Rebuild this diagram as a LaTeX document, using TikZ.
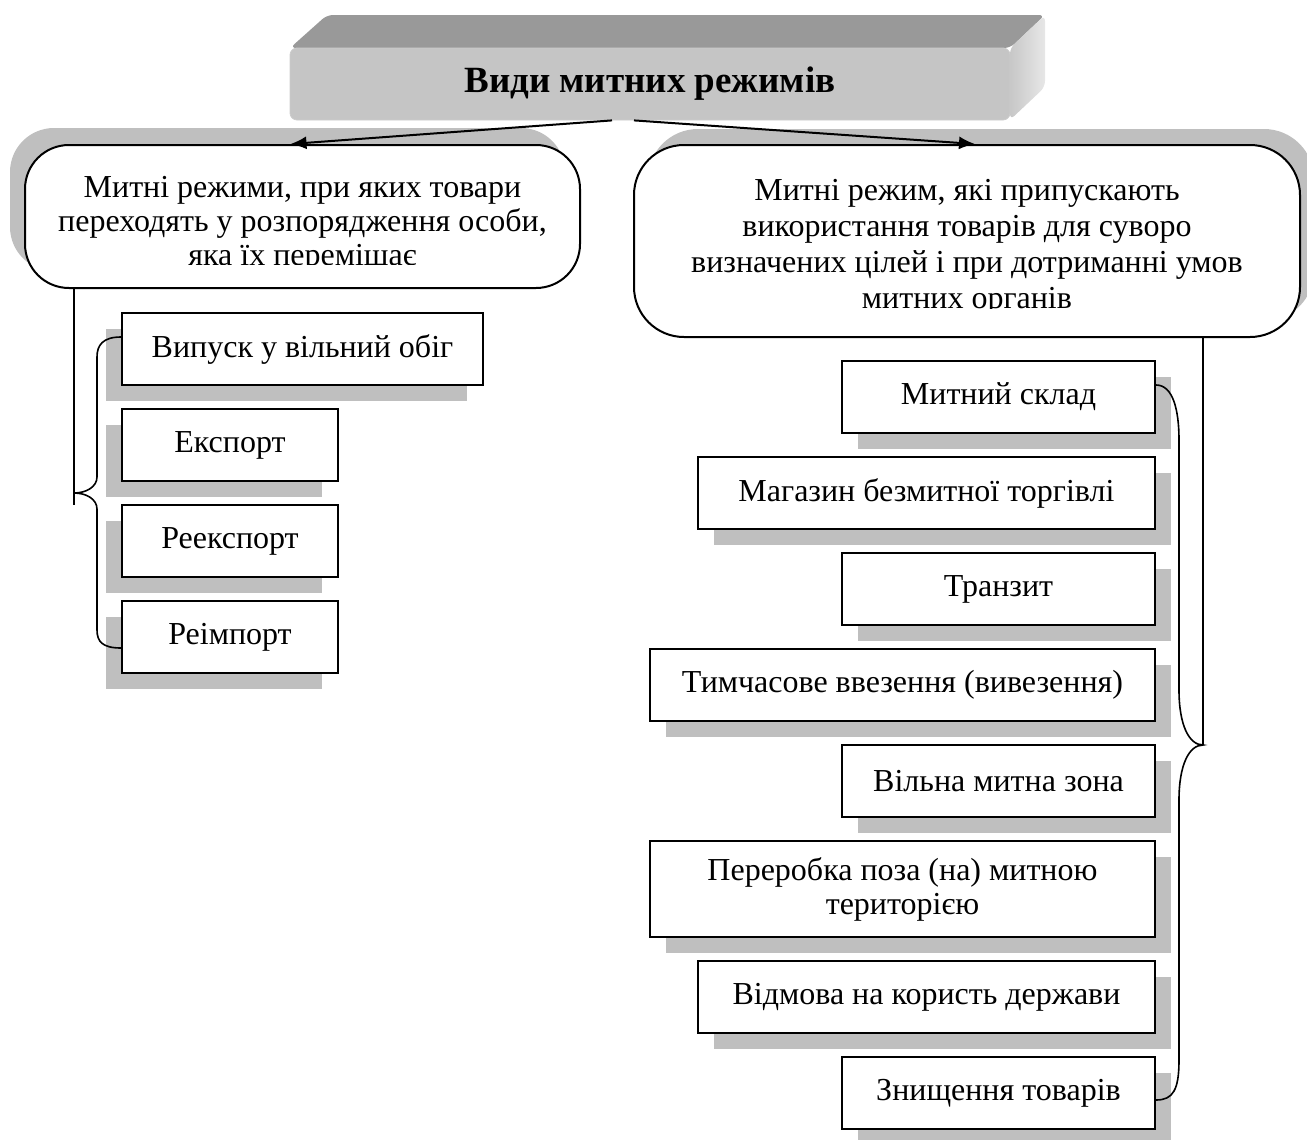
\documentclass[tikz,border=0pt]{standalone}
\usepackage{fontspec}
\setmainfont{Liberation Serif}
\usetikzlibrary{shadows, arrows.meta}

\definecolor{tin}{RGB}{191,191,191}     % колір тіні
\definecolor{fasad}{RGB}{197,197,197}   % передня грань заголовка
\definecolor{dakh}{RGB}{153,153,153}    % верхня грань
\definecolor{bik}{RGB}{221,221,221}     % бічна грань

\begin{document}
\begin{tikzpicture}[
        x=0.5pt, y=-0.5pt, % 1 піксель = 0.5pt, вісь y донизу
        every node/.style = {font=\fontsize{16}{17}\selectfont},
        vyd/.style = {draw, line width=1pt, fill=white, align=center, minimum height=36pt, inner sep=0pt}, % прямокутник режиму
        ltin/.style = {general shadow={fill=tin, shadow xshift=-8pt, shadow yshift=-8pt}},
        ptin/.style = {general shadow={fill=tin, shadow xshift=8pt, shadow yshift=-8pt}},
        hrupa/.style = {draw, line width=1pt, fill=white, inner sep=0pt}, % заокруглений блок
        strilka/.style = {draw, -{Latex[length=8pt, width=6.5pt]}, line width=1pt},
        duzhka/.style = {draw, line width=0.8pt},
    ]
    \useasboundingbox (0,0) rectangle (1307,1140);

    % заголовок (об'ємний)
    \fill[dakh, rounded corners=3pt] (290,48) -- (327,15) -- (1045,15) -- (1010,48) -- cycle;
    \shade[left color=bik!90!black, right color=bik!70!white, rounded corners=3pt] (1010,48) -- (1045,15) -- (1045,87) -- (1010,120) -- cycle;
    \node[fill=fasad, draw=black!20, rounded corners=3.5pt, minimum width=360pt, minimum height=36pt,
        font=\bfseries\fontsize{18.5}{20}\selectfont] (title) at (650,84) {\raisebox{-2pt}{Види митних режимів}};

    % дві групи
    \node[hrupa, rounded corners=22pt, minimum width=277.5pt, minimum height=71.5pt,
        general shadow={fill=tin, shadow xshift=-7.5pt, shadow yshift=8.5pt}] (lbox) at (302.5,216.5) {};
    \node[hrupa, rounded corners=25pt, minimum width=333pt, minimum height=96pt,
        general shadow={fill=tin, shadow xshift=7pt, shadow yshift=8pt}] (rbox) at (967,241) {};
    \begin{scope}
        \clip (25,145) rectangle (580,264);
        \node[align=center] (ltext) at (302.5,224) {Митні режими, при яких товари\\переходять у розпорядження особи,\\яка їх перемішає};
    \end{scope}
    \begin{scope}
        \clip (634,145) rectangle (1300,308);
        \node[align=center, font=\fontsize{16}{18}\selectfont] (rtext) at (967,247) {Митні режим, які припускають\\використання товарів для суворо\\визначених цілей і при дотриманні умов\\митних органів};
    \end{scope}

    \draw[strilka] ([xshift=-19pt]title.south) -- ([xshift=-6pt]lbox.north);
    \draw[strilka] ([xshift=-8pt]title.south) -- ([xshift=4pt]rbox.north);

    % ліва гілка
    \node[vyd, ltin, minimum width=180.5pt] (b1) at (302.5,349) {Випуск у вільний обіг};
    \node[vyd, ltin, minimum width=108pt] (b2) at (230,445) {Експорт};
    \node[vyd, ltin, minimum width=108pt] (b3) at (230,541) {Реекспорт};
    \node[vyd, ltin, minimum width=108pt] (b4) at (230,637) {Реімпорт};

    \coordinate (ltip) at (74,493);
    \draw[duzhka] (lbox.south -| ltip) -- ([yshift=-6pt]ltip);
    \draw[duzhka] ([yshift=6pt]b1.west) .. controls +(-18,0) and +(0,-12) .. (97,357) -- (97,477)
        .. controls +(0,10) and +(12,0) .. (ltip) .. controls +(12,0) and +(0,-10) .. (97,509) -- (97,630)
        .. controls +(0,12) and +(-18,0) .. ([yshift=-5.5pt]b4.west);

    % права гілка
    \node[vyd, ptin, minimum width=156.5pt] (r1) at (998.5,397) {Митний склад};
    \node[vyd, ptin, minimum width=228.5pt] (r2) at (926.5,493) {Магазин безмитної торгівлі};
    \node[vyd, ptin, minimum width=156.5pt] (r3) at (998.5,589) {Транзит};
    \node[vyd, ptin, minimum width=252.5pt] (r4) at (902.5,685) {Тимчасове ввезення (вивезення)};
    \node[vyd, ptin, minimum width=156.5pt] (r5) at (998.5,781) {Вільна митна зона};
    \node[vyd, ptin, minimum width=252.5pt, minimum height=48pt] (r6) at (902.5,889) {Переробка поза (на) митною\\територією};
    \node[vyd, ptin, minimum width=228.5pt] (r7) at (926.5,997) {Відмова на користь держави};
    \node[vyd, ptin, minimum width=156.5pt] (r8) at (998.5,1093) {Знищення товарів};

    \coordinate (rtip) at (1203,745);
    \draw[duzhka] (rbox.south -| rtip) -- (rtip);
    \draw[duzhka] ([yshift=6pt]r1.east) .. controls +(17,0) and +(0,-30) .. (1179,440) -- (1179,690)
        .. controls +(0,35) and +(-14,0) .. (rtip) .. controls +(-14,0) and +(0,-35) .. (1179,800) -- (1179,1060)
        .. controls +(0,30) and +(17,0) .. ([yshift=-3.5pt]r8.east);
\end{tikzpicture}
\end{document}
